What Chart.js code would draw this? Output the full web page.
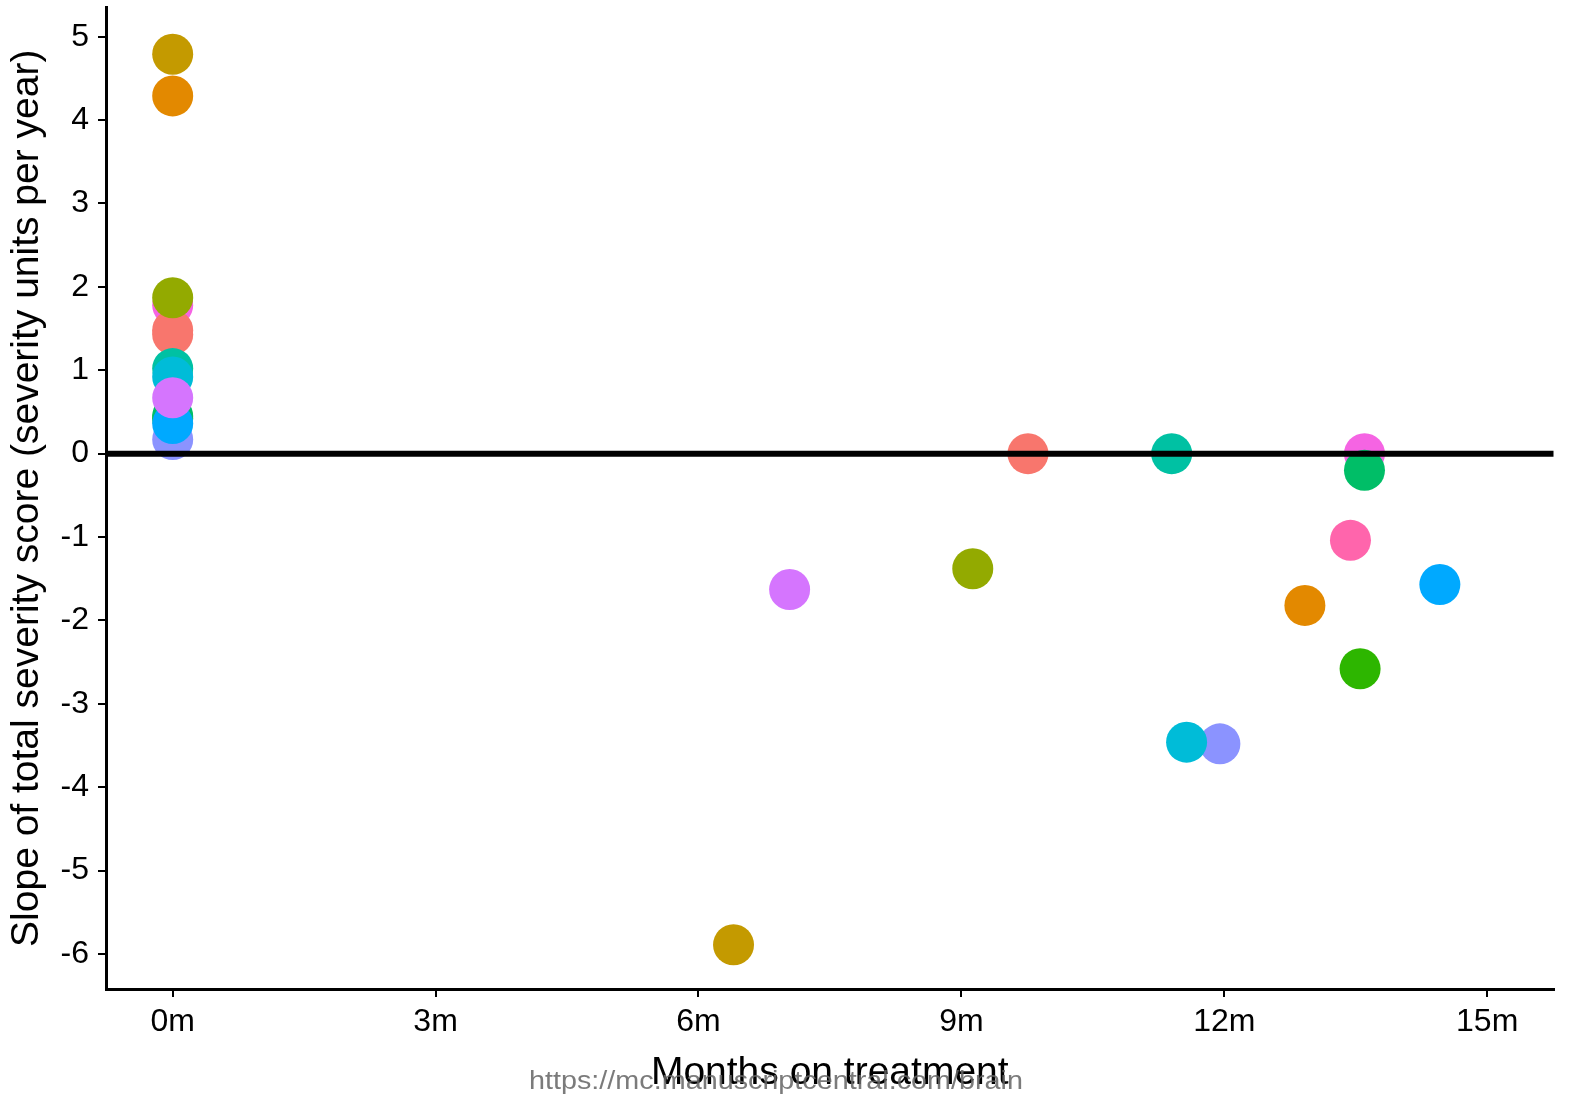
<!DOCTYPE html>
<html>
<head>
<meta charset="utf-8">
<script src="https://cdn.jsdelivr.net/npm/chart.js@4/dist/chart.umd.min.js"></script>
<style>
  html, body { margin: 0; padding: 0; background: #ffffff; }
  #wrap { width: 1574px; height: 1097px; overflow: hidden; position: relative; }
  #c { position: absolute; left: 0; top: -13px; }
</style>
</head>
<body>
<div id="wrap"><canvas id="c" width="1574" height="1110"></canvas></div>
<script>
// ---- data ----
const months = [0, 0, 0, 0, 0, 0, 0, 0, 0, 0, 0, 0, 0,
                9.76, 11.40, 13.60, 13.60, 13.44, 14.46, 12.92, 13.55, 11.95, 11.57, 9.13, 7.04, 6.40];
const slopes = [4.79, 4.29, 1.78, 1.43, 1.48, 1.87, 1.02, 0.92, 0.17, 0.42, 0.45, 0.36, 0.67,
                0.00, 0.00, 0.00, -0.20, -1.04, -1.57, -1.82, -2.58, -3.48, -3.46, -1.38, -1.63, -5.89];
const pointColors = ['#C49A00', '#E38900', '#F564E3', '#F8766D', '#F8766D', '#93AA00', '#00C1A3', '#00BCD8', '#8B93FF', '#2DB600', '#00BE67', '#00A9FF', '#D575FE',
                     '#F8766D', '#00C1A3', '#F564E3', '#00BE67', '#FF65AC', '#00A9FF', '#E38900', '#2DB600', '#8B93FF', '#00BCD8', '#93AA00', '#D575FE', '#C49A00'];
const xTickValues = [0, 3, 6, 9, 12, 15];
const yTickValues = [-6, -5, -4, -3, -2, -1, 0, 1, 2, 3, 4, 5];
const xTitle = 'Months on treatment';
const yTitle = 'Slope of total severity score (severity units per year)';
const watermark = 'https://mc.manuscriptcentral.com/brain';
const xRange = [-0.761, 15.757];
const yRange = [-6.42, 5.35];
const refLine = [{x: xRange[0], y: 0}, {x: xRange[1], y: 0}];

const points = months.map((m, i) => ({x: m, y: slopes[i]}));

const watermarkPlugin = {
  id: 'watermark',
  afterDraw(chart) {
    const ctx = chart.ctx;
    ctx.save();
    ctx.font = '25px "Liberation Sans", Arial, sans-serif';
    ctx.fillStyle = 'rgba(100,100,100,0.85)';
    ctx.textAlign = 'center';
    ctx.textBaseline = 'middle';
    const w = ctx.measureText(watermark).width;
    const target = 494;
    ctx.translate(776, 1095);
    ctx.scale(target / w, 1.05);
    ctx.fillText(watermark, 0, 0);
    ctx.restore();
  }
};

Chart.defaults.font.family = '"Liberation Sans", Arial, sans-serif';
Chart.defaults.color = '#000000';

new Chart(document.getElementById('c'), {
  type: 'scatter',
  data: {
    datasets: [
      {
        type: 'line',
        data: refLine,
        borderColor: '#000000',
        borderWidth: 6,
        pointRadius: 0,
        order: 0,
        clip: false
      },
      {
        data: points,
        pointBackgroundColor: pointColors,
        pointBorderWidth: 0,
        pointBorderColor: 'rgba(0,0,0,0)',
        pointRadius: 20.5,
        pointHoverRadius: 20.5,
        order: 1
      }
    ]
  },
  options: {
    responsive: false,
    devicePixelRatio: 1,
    animation: false,
    events: [],
    layout: { padding: { left: 0, top: 5, right: 20, bottom: 0 } },
    plugins: { legend: { display: false }, tooltip: { enabled: false } },
    scales: {
      x: {
        type: 'linear',
        min: xRange[0],
        max: xRange[1],
        afterBuildTicks(scale) { scale.ticks = xTickValues.map(v => ({value: v})); },
        afterFit(scale) { scale.height = 108; scale.paddingLeft = 0; scale.paddingRight = 0; },
        grid: { display: true, drawOnChartArea: false, drawTicks: true, tickLength: 8, color: '#000000', lineWidth: 2 },
        border: { display: true, color: '#000000', width: 3 },
        ticks: { font: { size: 32 }, color: '#000000', padding: 6, maxRotation: 0, callback: v => v + 'm' },
        title: { display: true, text: xTitle, font: { size: 39 }, color: '#000000', padding: { top: 0, bottom: 0 } }
      },
      y: {
        type: 'linear',
        min: yRange[0],
        max: yRange[1],
        afterBuildTicks(scale) { scale.ticks = yTickValues.map(v => ({value: v})); },
        afterFit(scale) { scale.width = 106; scale.paddingTop = 0; scale.paddingBottom = 0; },
        grid: { display: true, drawOnChartArea: false, drawTicks: true, tickLength: 8, color: '#000000', lineWidth: 2 },
        border: { display: true, color: '#000000', width: 3 },
        ticks: { font: { size: 32 }, color: '#000000', padding: 9 },
        title: { display: true, text: yTitle, font: { size: 39 }, color: '#000000', padding: { top: 4, bottom: 0 } }
      }
    }
  },
  plugins: [watermarkPlugin]
});
</script>
</body>
</html>
